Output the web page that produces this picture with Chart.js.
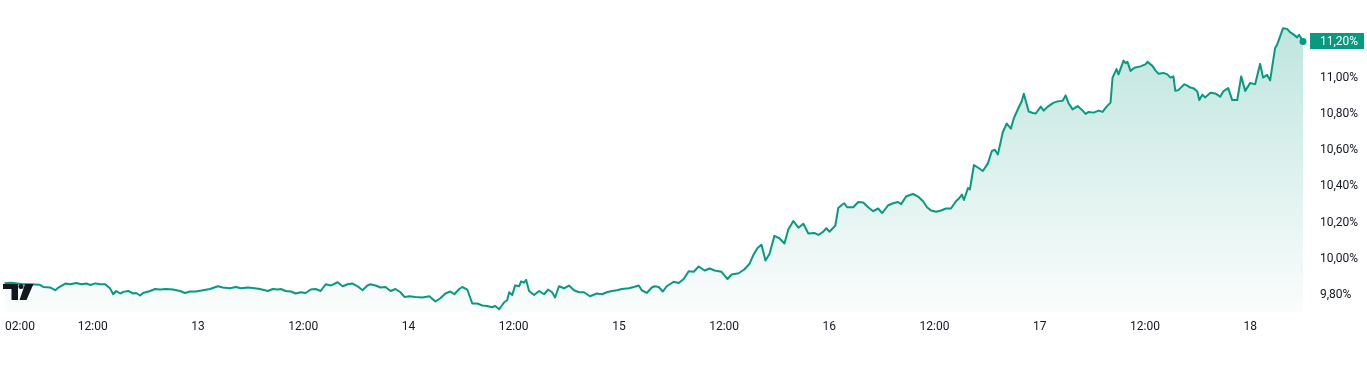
<!DOCTYPE html>
<html>
<head>
<meta charset="utf-8">
<script src="https://cdn.jsdelivr.net/npm/chart.js@4.4.1/dist/chart.umd.min.js"></script>
<style>
    html, body { margin: 0; padding: 0; background: #fff; }
    #wrap { width: 1367px; height: 365px; position: relative; }
</style>
</head>
<body>
<div id="wrap"><canvas id="yieldChart"></canvas></div>
<script>
// sample times, in hours counted from the 12th 00:00
const hours = [
    1.93, 2.73, 3.87, 5.00, 5.91, 6.37, 7.17, 7.73, 8.08, 8.87, 9.44, 10.12, 10.69, 11.26, 11.72, 12.28, 12.85, 13.42, 13.99,
    14.33, 14.67, 15.13, 15.47, 16.04, 16.61, 16.95, 17.40, 17.74, 18.54, 19.11, 19.68, 20.36, 21.16, 21.95, 22.52, 23.09, 23.77,
    24.57, 25.36, 26.27, 26.84, 27.64, 28.32, 28.89, 29.69, 30.48, 31.05, 31.96, 32.53, 33.10, 33.44, 34.01, 34.58, 35.15, 35.71,
    36.28, 36.85, 37.42, 37.99, 38.56, 39.13, 39.92, 40.49, 41.06, 41.63, 42.20, 42.77, 43.33, 43.68, 44.25, 44.81, 45.38, 45.95,
    46.52, 47.09, 47.54,
    48.11, 48.79, 49.59, 50.39, 51.07, 51.64, 52.21, 52.78, 53.23, 53.80, 54.14, 54.71, 55.28, 55.85, 56.42, 56.98, 57.55, 57.89,
    58.35, 58.92, 59.26, 59.49, 59.83, 60.17, 60.62, 60.85, 61.19, 61.42, 61.76, 62.33, 62.90, 63.47, 63.92, 64.38, 64.72, 65.17,
    65.74, 66.31, 66.88, 67.45, 68.02, 68.70, 69.49, 70.06, 70.63, 71.20, 71.77,
    72.34, 73.13, 73.70, 74.27, 74.61, 75.18, 75.75, 76.09, 76.55, 77.00, 77.46, 78.25, 78.82, 79.39, 79.96, 80.53, 81.10, 81.78,
    82.35, 82.92, 83.71, 84.39, 84.85, 85.65, 86.33, 86.90, 87.35, 87.81, 88.26, 88.72, 89.17, 89.74, 90.31, 90.88, 91.33, 91.90,
    92.47, 93.04, 93.61, 94.29, 94.75, 95.31, 95.66,
    96.00, 96.68, 97.02, 97.48, 97.70, 98.04, 98.73, 99.30, 99.86, 100.43, 101.00, 101.57, 102.02, 102.71, 103.28, 103.84, 104.19,
    104.75, 105.10, 105.55, 106.12, 106.69, 107.14, 107.60, 108.17, 108.74, 109.30, 109.87, 110.44, 110.78, 111.12, 111.35, 111.81,
    112.03, 112.49, 113.06, 113.51, 114.08, 114.54, 114.88, 115.22, 115.79, 116.24, 116.70, 117.04, 117.49, 117.95, 118.18, 118.74,
    119.20, 119.54,
    120.11, 120.45, 120.91, 121.25, 121.59, 122.04, 122.61, 122.95, 123.29, 123.75, 124.32, 124.89, 125.23, 125.57, 126.14, 126.71,
    127.16, 127.62, 128.07, 128.30, 128.75, 128.98, 129.55, 129.78, 130.00, 130.35, 130.80, 131.48, 132.05, 132.28, 132.85, 133.19,
    133.53, 134.10, 134.55, 134.90, 135.24, 135.46, 135.81, 136.26, 136.49, 136.83, 137.17, 137.51, 137.97, 138.19, 138.54, 138.88,
    139.45, 140.01, 140.58, 140.92, 141.49, 141.95, 142.52, 142.97, 143.43,
    144.00, 144.56, 145.13, 145.47, 145.93, 146.27, 146.84, 147.07, 147.75, 148.20, 148.54, 148.89, 149.34, 149.57, 150.02
];

// yield in %
const yields = [
    9.865, 9.868, 9.862, 9.860, 9.858, 9.845, 9.842, 9.827, 9.842, 9.864, 9.860, 9.867, 9.860, 9.864, 9.856, 9.865, 9.860, 9.860, 9.836,
    9.805, 9.823, 9.809, 9.818, 9.823, 9.809, 9.812, 9.798, 9.812, 9.823, 9.834, 9.831, 9.834, 9.831, 9.823, 9.812, 9.820, 9.820,
    9.827, 9.834, 9.849, 9.842, 9.838, 9.845, 9.838, 9.842, 9.838, 9.834, 9.823, 9.834, 9.831, 9.834, 9.823, 9.820, 9.809, 9.816,
    9.812, 9.831, 9.834, 9.823, 9.860, 9.853, 9.871, 9.849, 9.860, 9.864, 9.849, 9.827, 9.853, 9.860, 9.853, 9.842, 9.845, 9.823,
    9.834, 9.816, 9.790,
    9.794, 9.790, 9.787, 9.794, 9.765, 9.783, 9.809, 9.820, 9.805, 9.834, 9.845, 9.831, 9.754, 9.754, 9.743, 9.740, 9.733, 9.740,
    9.722, 9.761, 9.772, 9.816, 9.800, 9.854, 9.849, 9.876, 9.869, 9.885, 9.823, 9.801, 9.823, 9.805, 9.831, 9.816, 9.787, 9.849,
    9.838, 9.853, 9.827, 9.816, 9.816, 9.794, 9.809, 9.805, 9.816, 9.823, 9.827,
    9.834, 9.838, 9.845, 9.853, 9.827, 9.812, 9.842, 9.849, 9.845, 9.820, 9.849, 9.874, 9.867, 9.889, 9.932, 9.929, 9.958, 9.936,
    9.947, 9.936, 9.929, 9.889, 9.914, 9.921, 9.943, 9.973, 10.023, 10.060, 10.078, 9.991, 10.027, 10.127, 10.114, 10.085, 10.164, 10.209,
    10.172, 10.194, 10.140, 10.143, 10.132, 10.150, 10.169,
    10.150, 10.183, 10.281, 10.300, 10.307, 10.285, 10.285, 10.314, 10.311, 10.285, 10.263, 10.278, 10.253, 10.296, 10.307, 10.314, 10.302,
    10.344, 10.351, 10.358, 10.344, 10.318, 10.285, 10.267, 10.260, 10.267, 10.278, 10.278, 10.318, 10.333, 10.355, 10.325, 10.391,
    10.383, 10.518, 10.500, 10.485, 10.527, 10.595, 10.602, 10.576, 10.700, 10.747, 10.718, 10.776, 10.824, 10.871, 10.911, 10.813,
    10.805, 10.802,
    10.840, 10.818, 10.840, 10.851, 10.862, 10.869, 10.873, 10.902, 10.858, 10.825, 10.843, 10.818, 10.800, 10.811, 10.807, 10.818,
    10.811, 10.840, 10.862, 11.000, 11.047, 11.018, 11.094, 11.080, 11.087, 11.037, 11.055, 11.062, 11.073, 11.087, 11.065, 11.040,
    11.022, 11.026, 11.018, 11.000, 11.007, 10.927, 10.931, 10.953, 10.963, 10.956, 10.945, 10.942, 10.924, 10.876, 10.906, 10.891,
    10.917, 10.913, 10.895, 10.924, 10.942, 10.876, 10.876, 11.007, 10.927,
    10.971, 10.963, 11.076, 11.000, 11.015, 10.985, 11.164, 11.182, 11.273, 11.269, 11.251, 11.240, 11.222, 11.236, 11.200
];

// x axis labels
const tickHours = [2, 12, 24, 36, 48, 60, 72, 84, 96, 108, 120, 132, 144, 150.59];
const tickLabels = ['02:00', '12:00', '13', '12:00', '14', '12:00', '15', '12:00', '16', '12:00', '17', '12:00', '18', ''];

// y axis labels
const yTicks = [9.8, 10.0, 10.2, 10.4, 10.6, 10.8, 11.0];

const lineColor = '#089981';
const textColor = '#131722';
const fontFamily = 'Roboto, "Noto Sans", sans-serif';

const formatPct = v => v.toFixed(2).replace('.', ',') + '%';

// last value badge on the price scale and the small logo bottom-left
const overlayPlugin = {
    id: 'overlay',
    afterDraw(chart) {
        const ctx = chart.ctx;
        const yScale = chart.scales.y;
        const last = yields[yields.length - 1];
        const py = Math.round(yScale.getPixelForValue(last));

        ctx.save();
        ctx.fillStyle = lineColor;
        ctx.fillRect(yScale.left + 2, py - 8, 54, 16);
        ctx.fillStyle = '#ffffff';
        ctx.font = '12px ' + fontFamily;
        ctx.textBaseline = 'middle';
        ctx.textAlign = 'left';
        ctx.fillText(formatPct(last), yScale.left + 12, py + 1);

        // logo
        ctx.fillStyle = textColor;
        ctx.fillRect(3, 284, 15, 5);
        ctx.fillRect(11.5, 284, 6.5, 16);
        ctx.beginPath();
        ctx.arc(21, 286.5, 2.5, 0, Math.PI * 2);
        ctx.fill();
        ctx.beginPath();
        ctx.moveTo(25, 284);
        ctx.lineTo(33.5, 284);
        ctx.lineTo(26.5, 300);
        ctx.lineTo(19.5, 300);
        ctx.closePath();
        ctx.fill();
        ctx.restore();
    }
};

const ctx = document.getElementById('yieldChart').getContext('2d');

const yieldChart = new Chart(ctx, {
    type: 'line',
    data: {
        datasets: [{
            label: 'Yield',
            data: hours.map((h, i) => ({ x: h, y: yields[i] })),
            borderColor: lineColor,
            borderWidth: 2,
            borderJoinStyle: 'round',
            tension: 0,
            fill: 'start',
            backgroundColor: function (context) {
                const area = context.chart.chartArea;
                if (!area) return 'rgba(8, 153, 129, 0.15)';
                const g = context.chart.ctx.createLinearGradient(0, area.top, 0, area.bottom);
                g.addColorStop(0, 'rgba(8, 153, 129, 0.28)');
                g.addColorStop(1, 'rgba(8, 153, 129, 0.02)');
                return g;
            },
            pointRadius: c => (c.dataIndex === yields.length - 1 ? 3.5 : 0),
            pointBackgroundColor: lineColor,
            pointBorderWidth: 0,
            pointHoverRadius: 0
        }]
    },
    options: {
        responsive: true,
        maintainAspectRatio: false,
        animation: false,
        layout: { padding: 0 },
        plugins: {
            legend: { display: false },
            tooltip: { enabled: false }
        },
        scales: {
            x: {
                type: 'linear',
                min: 1.82,
                max: 150.59,
                grid: { display: false, drawTicks: false },
                border: { display: false },
                afterBuildTicks: axis => {
                    axis.ticks = tickHours.map(v => ({ value: v }));
                },
                afterFit: axis => {
                    axis.height = 53;
                    axis.paddingLeft = 0;
                    axis.paddingRight = 0;
                },
                ticks: {
                    autoSkip: false,
                    maxRotation: 0,
                    align: 'inner',
                    padding: 8,
                    color: textColor,
                    font: { family: fontFamily, size: 12 },
                    callback: (value, index) => tickLabels[index]
                }
            },
            y: {
                position: 'right',
                min: 9.707,
                max: 11.409,
                grid: { display: false, drawTicks: false },
                border: { display: false },
                afterBuildTicks: axis => {
                    axis.ticks = yTicks.map(v => ({ value: v }));
                },
                afterFit: axis => {
                    axis.width = 59;
                    axis.paddingTop = 0;
                    axis.paddingBottom = 0;
                },
                ticks: {
                    padding: 12,
                    color: textColor,
                    font: { family: fontFamily, size: 12 },
                    callback: value => formatPct(value)
                }
            }
        }
    },
    plugins: [overlayPlugin]
});
</script>
</body>
</html>
